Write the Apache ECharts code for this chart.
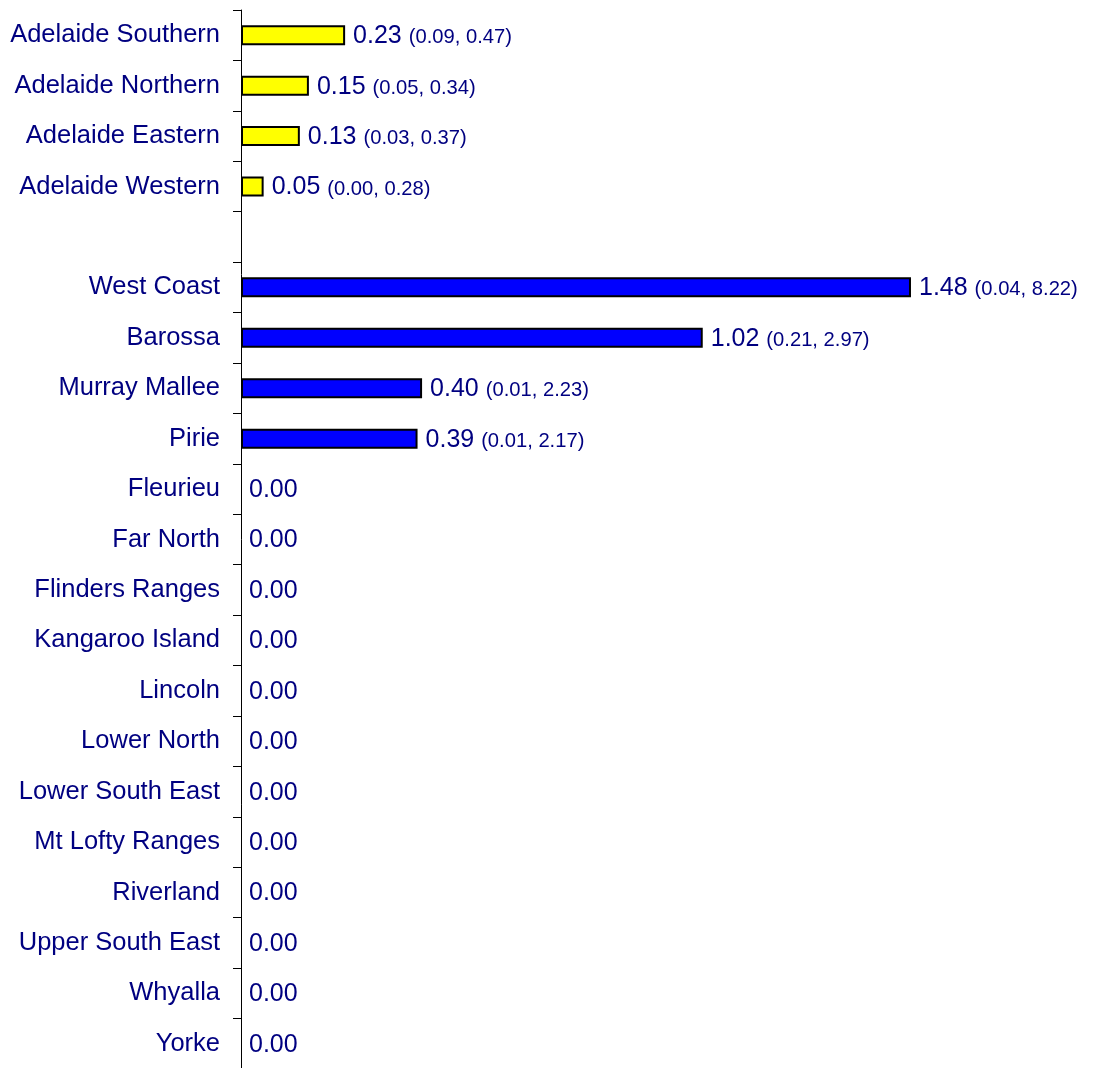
<!DOCTYPE html>
<html>
<head>
<meta charset="utf-8">
<script src="https://cdn.jsdelivr.net/npm/echarts@6/dist/echarts.min.js"></script>
<style>
	html, body { margin: 0; padding: 0; background: #fff; }
	#chart { width: 1093px; height: 1068px; }
</style>
</head>
<body>
<div id="chart"></div>
<script>
var categories = [
	'Adelaide Southern', 'Adelaide Northern', 'Adelaide Eastern', 'Adelaide Western', '',
	'West Coast', 'Barossa', 'Murray Mallee', 'Pirie', 'Fleurieu', 'Far North',
	'Flinders Ranges', 'Kangaroo Island', 'Lincoln', 'Lower North', 'Lower South East',
	'Mt Lofty Ranges', 'Riverland', 'Upper South East', 'Whyalla', 'Yorke'
];
var groups = [
	'metro', 'metro', 'metro', 'metro', '',
	'country', 'country', 'country', 'country', 'country', 'country',
	'country', 'country', 'country', 'country', 'country',
	'country', 'country', 'country', 'country', 'country'
];
var values = [0.23, 0.15, 0.13, 0.05, null, 1.48, 1.02, 0.40, 0.39, 0, 0, 0, 0, 0, 0, 0, 0, 0, 0, 0, 0];
var lower = [0.09, 0.05, 0.03, 0.00, null, 0.04, 0.21, 0.01, 0.01, null, null, null, null, null, null, null, null, null, null, null, null];
var upper = [0.47, 0.34, 0.37, 0.28, null, 8.22, 2.97, 2.23, 2.17, null, null, null, null, null, null, null, null, null, null, null, null];

var groupColor = { metro: '#ffff00', country: '#0000ff' };
var font = 'Arial, "Liberation Sans", sans-serif';
var navy = '#000080';

var chartDom = document.getElementById('chart');
var myChart = echarts.init(chartDom);

var data = [];
for (var i = 0; i < categories.length; i++) {
	data.push({
		value: values[i],
		itemStyle: {
			color: groupColor[groups[i]] || 'transparent',
			// no outline for empty bars, otherwise a stub shows on the axis
			borderWidth: values[i] ? 2 : 0
		}
	});
}

var option = {
	animation: false,
	grid: {
		left: 241,
		top: 10,
		width: 724.3,
		bottom: -1,
		outerBoundsMode: 'none'
	},
	xAxis: {
		type: 'value',
		min: 0,
		max: 1.6,
		show: false
	},
	yAxis: {
		type: 'category',
		inverse: true,
		data: categories,
		axisLine: { show: true, lineStyle: { color: '#000', width: 1 } },
		axisTick: { show: true, length: 8, lineStyle: { color: '#000' } },
		axisLabel: {
			margin: 21,
			color: navy,
			fontFamily: font,
			fontSize: 25.5
		},
		splitLine: { show: false }
	},
	series: [
		{
			type: 'bar',
			barWidth: 20,
			data: data,
			itemStyle: { borderColor: '#000' },
			label: {
				show: true,
				position: 'right',
				distance: 8,
				fontFamily: font,
				formatter: function (p) {
					var i = p.dataIndex;
					if (values[i] == null) return '';
					var s = '{v|' + values[i].toFixed(2) + '}';
					if (lower[i] != null) {
						s += '{v| }{ci|(' + lower[i].toFixed(2) + ', ' + upper[i].toFixed(2) + ')}';
					}
					return s;
				},
				rich: {
					v: { fontSize: 25, color: navy, fontFamily: font, verticalAlign: 'bottom', lineHeight: 27 },
					ci: { fontSize: 20.2, color: navy, fontFamily: font, verticalAlign: 'bottom', lineHeight: 22, padding: [0, 0, 1, 0] }
				}
			}
		}
	]
};
option && myChart.setOption(option);
</script>
</body>
</html>
